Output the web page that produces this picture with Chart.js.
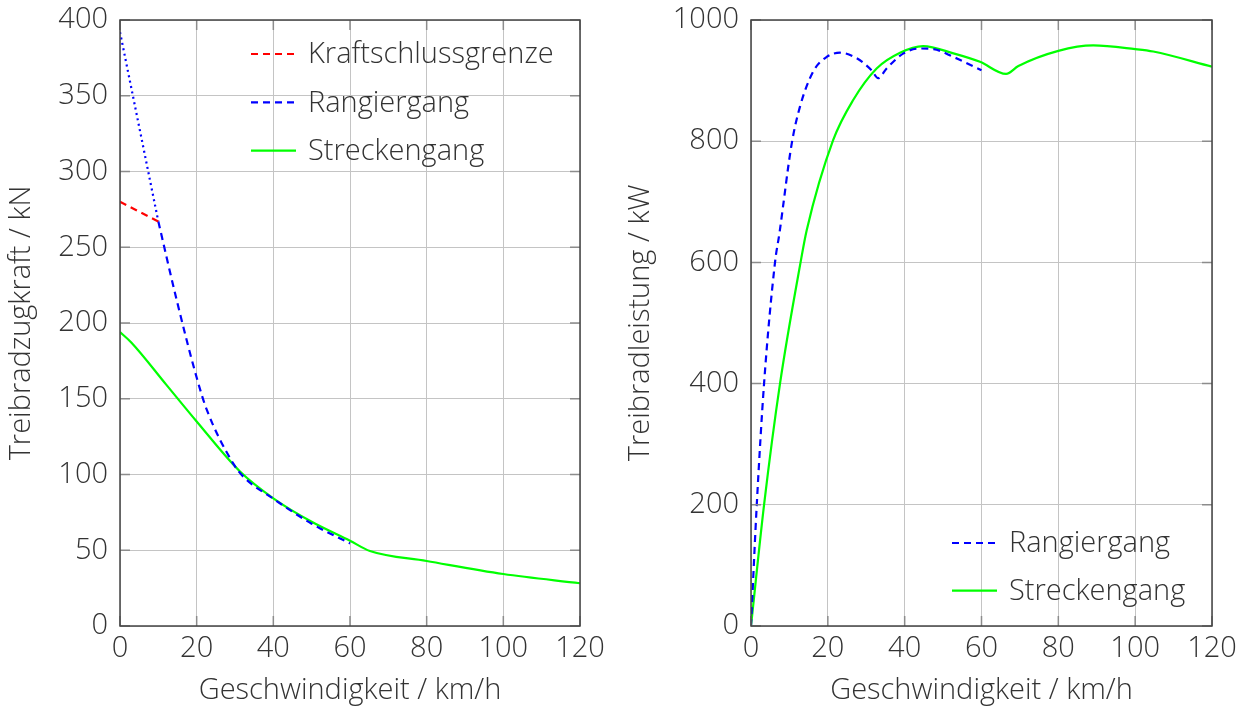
<!DOCTYPE html>
<html>
<head>
<meta charset="utf-8">
<script src="https://cdn.jsdelivr.net/npm/chart.js@4"></script>
<style>
  html, body { margin: 0; padding: 0; background: #fff; }
  .box { position: absolute; top: 0; width: 628px; height: 710px; }
  #boxZug { left: 0; }
  #boxLeistung { left: 628px; }
</style>
</head>
<body>
<div class="box" id="boxZug"><canvas id="zug"></canvas></div>
<div class="box" id="boxLeistung"><canvas id="leistung"></canvas></div>
<script>
// Achsen
const speedTicks = [0, 20, 40, 60, 80, 100, 120];
const forceTicks = [0, 50, 100, 150, 200, 250, 300, 350, 400];
const powerTicks = [0, 200, 400, 600, 800, 1000];

// Zugkraft / kN
const kraftschlussV = [0, 10];
const kraftschlussF = [280, 267];
const rangierAnfahrV = [0, 10];
const rangierAnfahrF = [392, 267];
const rangierZugV = [10, 14.8, 20, 22.6, 29.6, 32.2, 40, 50, 60];
const rangierZugF = [267, 215, 164, 143, 107, 98.5, 84, 67.5, 54.5];
const streckeZugV = [0, 3, 12, 20, 31.3, 40, 50, 60, 65.2, 80, 100, 120];
const streckeZugF = [194, 187, 159.5, 135, 102, 84.3, 68.8, 56.3, 49.5, 42.9, 34.3, 28.2];

// Leistung / kW
const rangierLeistungV = [0, 1.5, 3.4, 6.25, 7.4, 10.6, 12.75, 16.2, 19.7, 23.2, 27.5, 31.4, 33.1, 35.3, 39.7, 44, 47.5, 52.7, 60];
const rangierLeistungP = [0, 200, 400, 600, 648, 796, 857, 915, 939, 946, 937, 917, 904, 920, 945, 953, 952, 939, 917];
const streckeLeistungV = [0, 3.4, 7.55, 12.9, 14.5, 21.4, 26.6, 32.7, 38.8, 44.8, 52.7, 59.6, 66.4, 69.6, 80, 89.1, 100, 104.7, 120];
const streckeLeistungP = [0, 200, 400, 600, 653, 802, 868, 920, 946, 957, 945, 931, 911, 924, 949, 958, 952, 948, 923];

const FONT = "'Open Sans', 'DejaVu Sans', sans-serif";
const FONT_SIZE = 29;
const TEXT = "#333";
const RED = "#ff0000", BLUE = "#0000ff", GREEN = "#00ff00";
const DASHED = [7, 5], DOTTED = [2, 3.5];

function points(xs, ys) {
  return xs.map((x, i) => ({ x: x, y: ys[i] }));
}

function line(label, xs, ys, color, dash) {
  return {
    label: label,
    data: points(xs, ys),
    borderColor: color,
    borderWidth: 2.2,
    borderDash: dash || [],
    pointRadius: 0,
    fill: false,
    cubicInterpolationMode: "monotone",
  };
}

// Rahmen mit innenliegenden Ticks (pgfplots-Stil) und Legende im Diagramm
const framePlugin = {
  id: "frame",
  afterDraw(chart, args, opts) {
    const { ctx, chartArea: a, scales } = chart;
    ctx.save();
    ctx.strokeStyle = "#8c8c8c";
    ctx.lineWidth = 1.5;
    ctx.beginPath();
    scales.x.ticks.forEach(t => {
      const px = scales.x.getPixelForValue(t.value);
      ctx.moveTo(px, a.bottom); ctx.lineTo(px, a.bottom - 10);
      ctx.moveTo(px, a.top); ctx.lineTo(px, a.top + 10);
    });
    scales.y.ticks.forEach(t => {
      const py = scales.y.getPixelForValue(t.value);
      ctx.moveTo(a.left, py); ctx.lineTo(a.left + 10, py);
      ctx.moveTo(a.right, py); ctx.lineTo(a.right - 10, py);
    });
    ctx.stroke();
    ctx.strokeStyle = "#444";
    ctx.lineWidth = 1.5;
    ctx.strokeRect(a.left, a.top, a.right - a.left, a.bottom - a.top);

    // Legende
    const lg = opts.legend;
    ctx.font = "300 " + FONT_SIZE + "px " + FONT;
    ctx.textBaseline = "middle";
    ctx.textAlign = "left";
    lg.items.forEach((idx, i) => {
      const ds = chart.data.datasets[idx];
      const x0 = a.left + lg.x;
      const y0 = (lg.fromBottom ? a.bottom : a.top) + lg.y + i * lg.step;
      ctx.strokeStyle = ds.borderColor;
      ctx.lineWidth = ds.borderWidth;
      ctx.setLineDash(ds.borderDash);
      ctx.beginPath();
      ctx.moveTo(x0, y0);
      ctx.lineTo(x0 + 45, y0);
      ctx.stroke();
      ctx.setLineDash([]);
      ctx.fillStyle = TEXT;
      ctx.fillText(ds.label, x0 + 57, y0 + 1);
    });
    ctx.restore();
  },
};

function scaleOptions(ticks, title, isX, size, titlePad) {
  return {
    type: "linear",
    min: ticks[0],
    max: ticks[ticks.length - 1],
    afterBuildTicks: s => { s.ticks = ticks.map(v => ({ value: v })); },
    afterFit: s => {
      if (isX) { s.height = size; s.paddingLeft = 0; s.paddingRight = 0; }
      else { s.width = size; s.paddingTop = 0; s.paddingBottom = 0; }
    },
    border: { display: false },
    grid: { color: "#c4c4c4", lineWidth: 1, drawTicks: false },
    ticks: {
      padding: isX ? 5 : 12,
      color: TEXT,
      font: { family: FONT, size: FONT_SIZE, weight: "300" },
      maxRotation: 0,
      callback: v => String(v),
    },
    title: {
      display: true,
      text: title,
      color: TEXT,
      font: { family: FONT, size: FONT_SIZE, weight: "300" },
      padding: isX ? { top: 0, bottom: titlePad } : { top: titlePad, bottom: 0 },
    },
  };
}

Chart.defaults.animation = false;

const ctxZug = document.getElementById("zug");
new Chart(ctxZug, {
  type: "line",
  data: {
    datasets: [
      line("Kraftschlussgrenze", kraftschlussV, kraftschlussF, RED, DASHED),
      line("Rangiergang", rangierZugV, rangierZugF, BLUE, DASHED),
      line("Streckengang", streckeZugV, streckeZugF, GREEN),
      line("Rangiergang", rangierAnfahrV, rangierAnfahrF, BLUE, DOTTED),
    ],
  },
  options: {
    responsive: true,
    maintainAspectRatio: false,
    layout: { padding: { top: 20, right: 48, left: 0, bottom: 0 } },
    scales: {
      x: scaleOptions(speedTicks, "Geschwindigkeit / km/h", true, 84, 2),
      y: scaleOptions(forceTicks, "Treibradzugkraft / kN", false, 120, 4),
    },
    plugins: {
      legend: { display: false },
      tooltip: { enabled: false },
      frame: { legend: { items: [0, 1, 2], x: 131, y: 34, step: 48.3, fromBottom: false } },
    },
  },
  plugins: [framePlugin],
});
// ------------------------------------------ zugkraft --------------------------------------------

const ctxLeistung = document.getElementById("leistung");
new Chart(ctxLeistung, {
  type: "line",
  data: {
    datasets: [
      line("Rangiergang", rangierLeistungV, rangierLeistungP, BLUE, DASHED),
      line("Streckengang", streckeLeistungV, streckeLeistungP, GREEN),
    ],
  },
  options: {
    responsive: true,
    maintainAspectRatio: false,
    layout: { padding: { top: 20, right: 44, left: 0, bottom: 0 } },
    scales: {
      x: scaleOptions(speedTicks, "Geschwindigkeit / km/h", true, 84, 2),
      y: scaleOptions(powerTicks, "Treibradleistung / kW", false, 123, -5),
    },
    plugins: {
      legend: { display: false },
      tooltip: { enabled: false },
      frame: { legend: { items: [0, 1], x: 201, y: -83, step: 47.7, fromBottom: true } },
    },
  },
  plugins: [framePlugin],
});
// ------------------------------------------ leistung --------------------------------------------
</script>
</body>
</html>
